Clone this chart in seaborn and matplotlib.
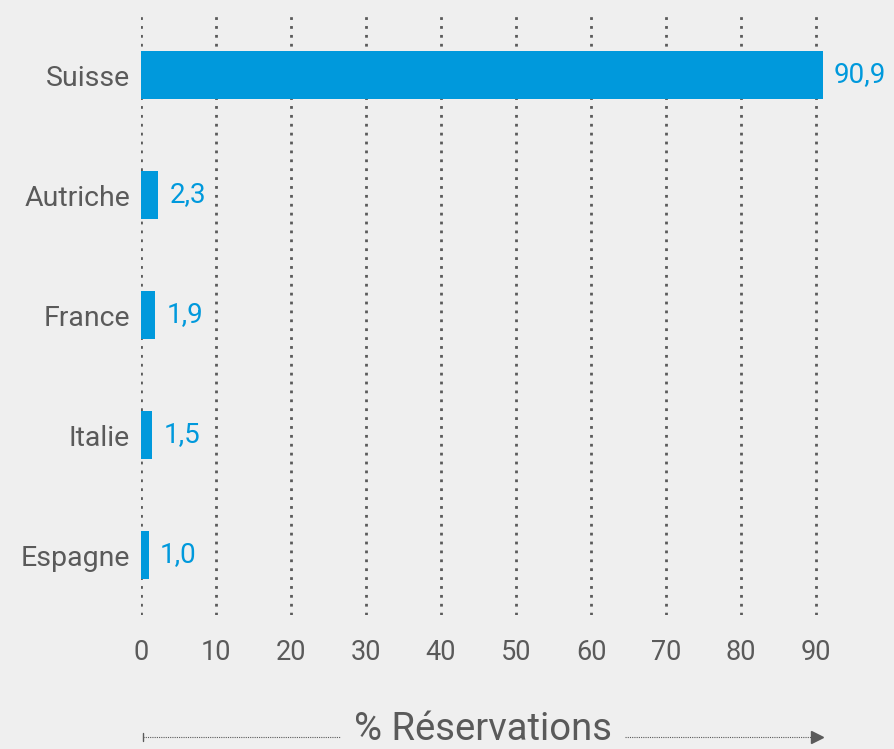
import matplotlib
matplotlib.use("Agg")
import matplotlib.pyplot as plt
import seaborn as sns
import pandas as pd

# ========== DATA ==========
pays = ["Suisse", "Autriche", "France", "Italie", "Espagne"]
reservations = [90.9, 2.3, 1.9, 1.5, 1.0]
labels = ["90,9", "2,3", "1,9", "1,5", "1,0"]
ticks = [0, 10, 20, 30, 40, 50, 60, 70, 80, 90]

BG = "#efefef"
BLUE = "#0099dc"
GREY = "#5a5a5a"

df = pd.DataFrame({"pays": pays, "val": reservations})

sns.set_theme(style="white", rc={"axes.facecolor": BG, "figure.facecolor": BG})
plt.rcParams["font.family"] = ["Roboto", "DejaVu Sans"]

fig = plt.figure(figsize=(8.94, 7.49), dpi=100)
ax = fig.add_axes([141 / 894, 134 / 749, 750 / 894, 600 / 749])

# dotted grid behind the bars
for t in ticks:
    ax.axvline(t, color=GREY, linestyle=(0, (1, 2.2)), linewidth=2, zorder=0)

sns.barplot(data=df, x="val", y="pays", color=BLUE, saturation=1,
            width=0.4, linewidth=0, ax=ax, zorder=2)

for i, (v, lab) in enumerate(zip(reservations, labels)):
    ax.annotate(lab, (v, i), xytext=(8, 0), textcoords="offset points",
                va="center", ha="left", color=BLUE, fontsize=20,
                bbox=dict(boxstyle="square,pad=0.12", fc=BG, ec="none"),
                zorder=3)

ax.set_xlim(0, 100)
ax.set_ylim(4.5, -0.5)
ax.set_xticks(ticks)
ax.set_xticklabels([str(t) for t in ticks])
ax.tick_params(axis="y", length=0, labelsize=20.5, labelcolor=GREY, pad=8)
ax.tick_params(axis="x", length=0, labelsize=19.5, labelcolor=GREY, pad=17)
ax.set_xlabel("")
ax.set_ylabel("")
for s in ax.spines.values():
    s.set_visible(False)

# axis title with dotted arrow on both sides of the text
for x0, x1 in [(143, 340), (625, 815)]:
    fig.lines.append(plt.Line2D([x0 / 894, x1 / 894], [12 / 749, 12 / 749],
                                transform=fig.transFigure, color=GREY,
                                linestyle=(0, (1, 1)), linewidth=0.8))
fig.lines.append(plt.Line2D([143 / 894, 143 / 894], [8 / 749, 16 / 749],
                            transform=fig.transFigure, color=GREY, linewidth=1))
fig.lines.append(plt.Line2D([817 / 894], [12 / 749], transform=fig.transFigure,
                            color=GREY, marker=">", markersize=8, linestyle="none"))
fig.text(483 / 894, 1.5 / 749, "% Réservations", ha="center", va="bottom",
         fontsize=27.5, color=GREY)

fig.savefig("out.png", dpi=100, facecolor=BG)
